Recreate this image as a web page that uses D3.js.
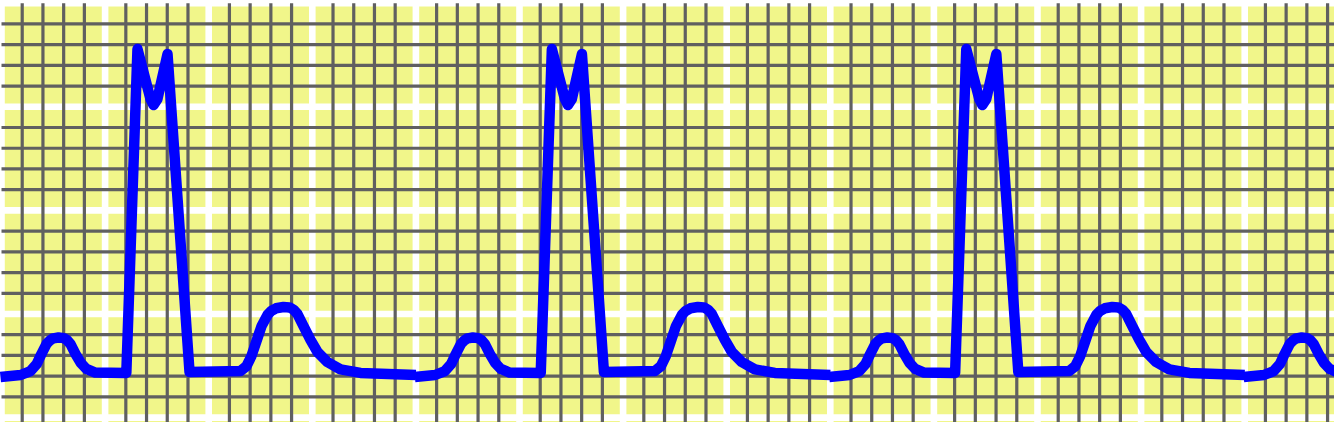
<!DOCTYPE html>
<html>
<head>
<meta charset="utf-8">
<script src="https://cdn.jsdelivr.net/npm/d3@7"></script>
<style>
  html, body { margin: 0; padding: 0; background: #ffffff; }
  svg { display: block; }
</style>
</head>
<body>
<svg id="chart" width="1334" height="422"></svg>
<script>
// ---- Data (one heartbeat template) ----
// time in seconds from beat start, amplitude in mV
const beatTime = [-0.002, 0.037, 0.056, 0.068, 0.077, 0.087, 0.094, 0.100, 0.110, 0.120, 0.126, 0.133, 0.143, 0.153, 0.164, 0.181,
                  0.241, 0.2625, 0.2876, 0.2934, 0.301, 0.3205, 0.363,
                  0.4614, 0.473, 0.4826, 0.4923, 0.502, 0.5135, 0.521, 0.530, 0.5444, 0.5560, 0.5640, 0.5714, 0.583, 0.5965,
                  0.610, 0.629, 0.6544, 0.693, 0.800];
const beatValue = [-0.010, 0.000, 0.019, 0.053, 0.101, 0.150, 0.168, 0.177, 0.181, 0.178, 0.170, 0.150, 0.101, 0.058, 0.029, 0.012,
                   0.010, 1.573, 1.332, 1.303, 1.332, 1.549, 0.014,
                   0.019, 0.043, 0.092, 0.164, 0.236, 0.290, 0.310, 0.322, 0.328, 0.326, 0.315, 0.294, 0.236, 0.169,
                   0.111, 0.063, 0.027, 0.010, 0.000];
// start time of each beat (s)
const beatStarts = [0.0, 0.8, 1.6, 2.4];

// ---- Layout ----
const W = 1334, H = 422;
const SQ = 20.72;          // one small square (0.04 s, 0.1 mV)
const X0 = 1.5, Y0 = 3.2;  // grid origin
const BASE = 375;          // baseline y

const svg = d3.select("#chart");

// grid scales in "small squares"
const gx = d3.scaleLinear().domain([0, 1]).range([X0, X0 + SQ]);
const gy = d3.scaleLinear().domain([0, 1]).range([Y0, Y0 + SQ]);
// trace scales
const x = d3.scaleLinear().domain([0, 0.04]).range([X0, X0 + SQ]);
const y = d3.scaleLinear().domain([0, 0.1]).range([BASE, BASE - SQ]);

const nCols = Math.ceil((W - X0) / SQ) + 1;
const nRows = Math.ceil((H - Y0) / SQ) + 1;

svg.append("rect").attr("width", W).attr("height", H).attr("fill", "#f1f68a");

// major (white) lines
const major = svg.append("g");
major.selectAll("line.vx").data(d3.range(0, nCols + 1, 5)).join("line")
  .attr("x1", d => gx(d)).attr("x2", d => gx(d))
  .attr("y1", 0).attr("y2", H)
  .attr("stroke", "#ffffff").attr("stroke-width", 6.6);
major.selectAll("line.hy").data(d3.range(0, nRows + 1, 5)).join("line")
  .attr("y1", d => gy(d)).attr("y2", d => gy(d))
  .attr("x1", 0).attr("x2", W)
  .attr("stroke", "#ffffff").attr("stroke-width", 6.6);

// minor (dark) lines
const minor = svg.append("g");
minor.selectAll("line.v").data(d3.range(1, nCols + 1).filter(i => i % 5 !== 0)).join("line")
  .attr("x1", d => gx(d)).attr("x2", d => gx(d))
  .attr("y1", gy(0)).attr("y2", H + 5)
  .attr("stroke", "#606060").attr("stroke-width", 3.2);
minor.selectAll("line.h").data(d3.range(1, nRows + 1).filter(i => i % 5 !== 0)).join("line")
  .attr("y1", d => gy(d)).attr("y2", d => gy(d))
  .attr("x1", gx(0)).attr("x2", W + 5)
  .attr("stroke", "#606060").attr("stroke-width", 3.2);

// ECG trace, one path per beat
const beat = beatTime.map((t, i) => ({ t, v: beatValue[i] }));
const line = d3.line().x(d => d.x).y(d => d.y);
svg.append("g").selectAll("path").data(beatStarts).join("path")
  .attr("d", s => line(beat.map(p => ({ x: x(s + p.t), y: y(p.v) }))))
  .attr("fill", "none")
  .attr("stroke", "#0000ff")
  .attr("stroke-width", 10.5)
  .attr("stroke-linejoin", "round")
  .attr("stroke-linecap", "butt");
</script>
</body>
</html>
